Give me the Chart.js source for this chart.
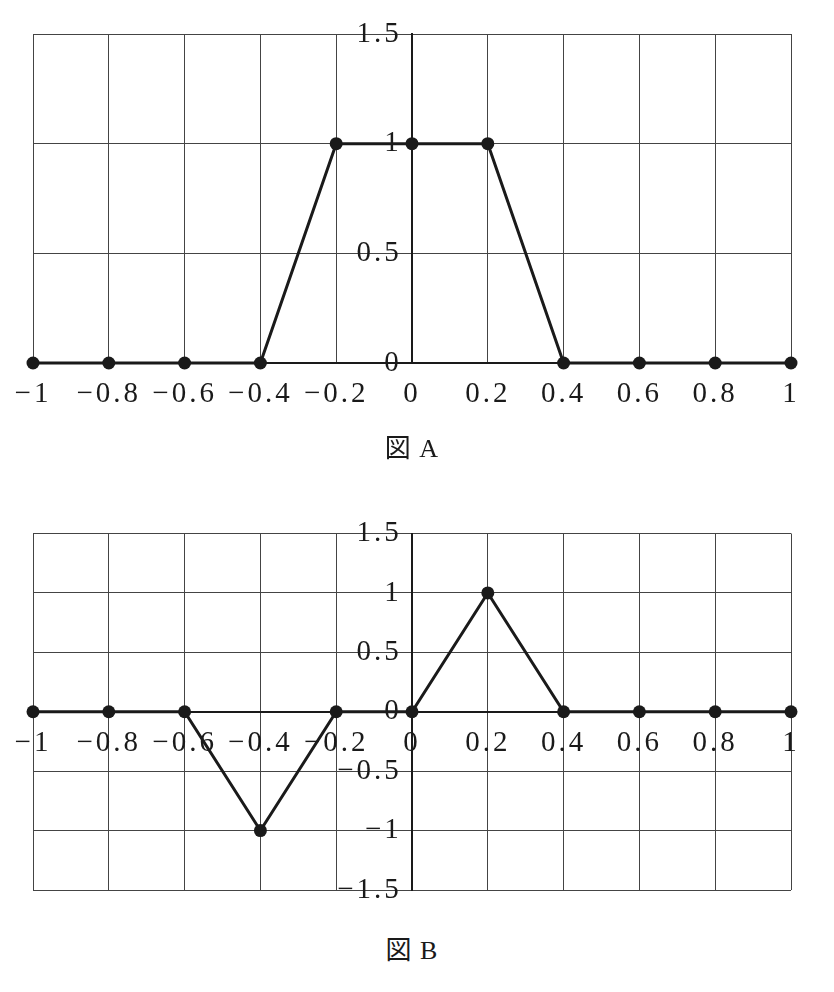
<!DOCTYPE html>
<html>
<head>
<meta charset="utf-8">
<script src="https://cdn.jsdelivr.net/npm/chart.js@4/dist/chart.umd.min.js"></script>
<style>
  html, body { margin: 0; padding: 0; background: #fff; }
  body { width: 834px; height: 992px; position: relative; overflow: hidden; }
  .wrap { position: absolute; left: 0; width: 834px; }
  .cap { position: absolute; left: -5px; width: 834px; text-align: center; letter-spacing: 1px;
         font-family: "Liberation Serif", "Noto Sans CJK JP", serif; font-size: 26px; color: #1a1a1a; }
</style>
</head>
<body>
<div class="wrap" style="top:0;height:480px"><canvas id="chartA"></canvas></div>
<div class="cap" style="top:427px">図 A</div>
<div class="wrap" style="top:500px;height:420px"><canvas id="chartB"></canvas></div>
<div class="cap" style="top:929px">図 B</div>
<script>
// ---- data ----
const xValues = [-1, -0.8, -0.6, -0.4, -0.2, 0, 0.2, 0.4, 0.6, 0.8, 1];
const seriesA = [0, 0, 0, 0, 1, 1, 1, 0, 0, 0, 0];
const seriesB = [0, 0, 0, -1, 0, 0, 1, 0, 0, 0, 0];
const xTickValues = [-1, -0.8, -0.6, -0.4, -0.2, 0, 0.2, 0.4, 0.6, 0.8, 1];
const xTickLabels = ['−1', '−0.8', '−0.6', '−0.4', '−0.2', '0', '0.2', '0.4', '0.6', '0.8', '1'];
const yTickValuesA = [0, 0.5, 1, 1.5];
const yTickLabelsA = ['0', '0.5', '1', '1.5'];
const yTickValuesB = [-1.5, -1, -0.5, 0, 0.5, 1, 1.5];
const yTickLabelsB = ['−1.5', '−1', '−0.5', '0', '0.5', '1', '1.5'];

const INK = '#1a1a1a';
const GRID = '#444444';
const tickFont = { family: "'Liberation Serif', 'DejaVu Serif', serif", size: 29 };

// wider letter spacing for tick text (math-style spacing)
const spacingPlugin = {
  id: 'spacing',
  beforeDraw(chart) { chart.ctx.letterSpacing = '3px'; },
  afterDraw(chart) { chart.ctx.letterSpacing = '0px'; }
};

function makeChart(id, ys, yVals, yLabels, yMin, yMax, pad) {
  const pts = xValues.map((x, i) => ({ x: x, y: ys[i] }));
  return new Chart(document.getElementById(id), {
    type: 'scatter',
    data: {
      datasets: [{
        data: pts,
        showLine: true,
        borderColor: INK,
        borderWidth: 3,
        backgroundColor: INK,
        pointRadius: 6.5,
        pointBorderWidth: 0,
        pointHoverRadius: 6.5,
        clip: false
      }]
    },
    plugins: [spacingPlugin],
    options: {
      responsive: true,
      maintainAspectRatio: false,
      animation: false,
      events: [],
      layout: { padding: pad },
      plugins: { legend: { display: false }, tooltip: { enabled: false } },
      scales: {
        x: {
          type: 'linear',
          min: -1, max: 1,
          position: { y: 0 },
          afterBuildTicks: s => { s.ticks = xTickValues.map(v => ({ value: v })); },
          afterFit: s => { s.height = 0; },
          grid: { color: GRID, lineWidth: 1, drawTicks: false },
          border: { display: true, color: INK, width: 2 },
          ticks: {
            padding: 14,
            maxRotation: 0,
            autoSkip: false,
            color: INK,
            font: tickFont,
            callback: (v, i) => xTickLabels[i]
          }
        },
        y: {
          type: 'linear',
          min: yMin, max: yMax,
          position: { x: 0 },
          afterBuildTicks: s => { s.ticks = yVals.map(v => ({ value: v })); },
          afterFit: s => { s.width = 0; },
          grid: { color: GRID, lineWidth: 1, drawTicks: false },
          border: { display: true, color: INK, width: 2 },
          ticks: {
            autoSkip: false,
            color: INK,
            font: tickFont,
            callback: (v, i) => yLabels[i] + ' '
          }
        }
      }
    }
  });
}

makeChart('chartA', seriesA, yTickValuesA, yTickLabelsA, 0, 1.5,
  { left: 33, right: 43, top: 34, bottom: 117 });
makeChart('chartB', seriesB, yTickValuesB, yTickLabelsB, -1.5, 1.5,
  { left: 33, right: 43, top: 33.5, bottom: 30 });
</script>
</body>
</html>
